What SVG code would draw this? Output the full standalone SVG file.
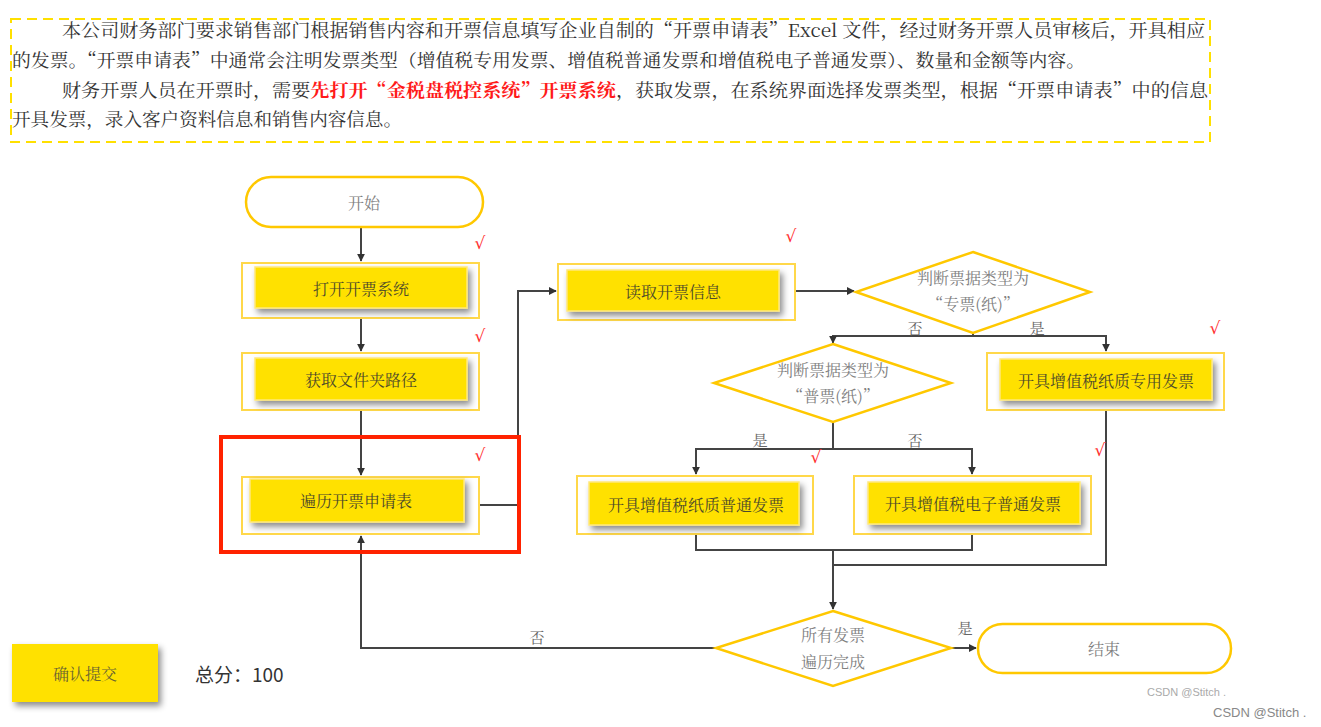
<svg xmlns="http://www.w3.org/2000/svg" width="1321" height="727" viewBox="0 0 1321 727">
<style>
.hd{font-family:"Noto Serif CJK SC","Noto Sans CJK SC",serif;font-size:18px;fill:#333}
.red{fill:#ff1a1a;font-weight:bold}
.frame{fill:#fff;stroke:#ffd84a;stroke-width:2}
.box{fill:#ffe100;stroke:#ffe87a;stroke-width:1.5}
.nt{font-family:"Noto Serif CJK SC","Noto Sans CJK SC",serif;font-size:16px;fill:#4d4a2a;text-anchor:middle;dominant-baseline:central}
.gt{font-family:"Noto Serif CJK SC","Noto Sans CJK SC",serif;font-size:16px;fill:#808080;text-anchor:middle;dominant-baseline:central}
.dia{fill:#fff;stroke:#ffc800;stroke-width:2.5}
.pill{fill:#fff;stroke:#ffc800;stroke-width:2.5}
.ln{fill:none;stroke:#444;stroke-width:2}
.lab{font-family:"Noto Serif CJK SC","Noto Sans CJK SC",serif;font-size:15px;fill:#666;text-anchor:middle;dominant-baseline:central}
.ck{font-family:"DejaVu Sans",sans-serif;font-size:17px;font-style:italic;fill:#ff3030;text-anchor:middle;dominant-baseline:central}
</style>
<defs>
<filter id="sh" x="-10%" y="-20%" width="130%" height="160%">
<feDropShadow dx="3" dy="4" stdDeviation="3" flood-color="#000" flood-opacity="0.45"/>
</filter>
<marker id="ar" viewBox="0 0 10 10" refX="9" refY="5" markerWidth="4" markerHeight="4" orient="auto">
<path d="M0,0 L10,5 L0,10 z" fill="#333"/>
</marker>
</defs>
<rect width="1321" height="727" fill="#fff"/>

<g id="intro">
<rect x="11" y="19" width="1199" height="123" fill="none" stroke="#ffe000" stroke-width="2" stroke-dasharray="10,6"/>
<text class="hd" x="62" y="37" textLength="1143" lengthAdjust="spacingAndGlyphs">本公司财务部门要求销售部门根据销售内容和开票信息填写企业自制的“开票申请表”Excel 文件，经过财务开票人员审核后，开具相应</text>
<text class="hd" x="12" y="67" textLength="1073" lengthAdjust="spacingAndGlyphs">的发票。“开票申请表”中通常会注明发票类型（增值税专用发票、增值税普通发票和增值税电子普通发票）、数量和金额等内容。</text>
<text class="hd" x="62" y="97" textLength="1146" lengthAdjust="spacingAndGlyphs">财务开票人员在开票时，需要<tspan class="red">先打开“金税盘税控系统”开票系统</tspan>，获取发票，在系统界面选择发票类型，根据“开票申请表”中的信息</text>
<text class="hd" x="12" y="126" textLength="390" lengthAdjust="spacingAndGlyphs">开具发票，录入客户资料信息和销售内容信息。</text>
</g>

<g id="connectors">
<path class="ln" d="M361,227 V261" marker-end="url(#ar)"/>
<path class="ln" d="M361,318 V351" marker-end="url(#ar)"/>
<path class="ln" d="M361,410 V475" marker-end="url(#ar)"/>
<path class="ln" d="M479,505 H518 V291 H556" marker-end="url(#ar)"/>
<path class="ln" d="M795,291 L854,291" marker-end="url(#ar)"/>
<path class="ln" d="M973,333 V336"/>
<path class="ln" d="M833,343 V336 H1106 V351" marker-end="url(#ar)"/>
<path class="ln" d="M833,336 V343" marker-end="url(#ar)"/>
<path class="ln" d="M833,422 V449"/>
<path class="ln" d="M696,474 V449 H972 V474" marker-end="url(#ar)"/>
<path class="ln" d="M696,449 V474" marker-end="url(#ar)"/>
<path class="ln" d="M696,534 V550 H972 V534"/>
<path class="ln" d="M1106,410 V565 H833"/>
<path class="ln" d="M833,550 V609" marker-end="url(#ar)"/>
<path class="ln" d="M951,648 H976" marker-end="url(#ar)"/>
<path class="ln" d="M716,648 H361 V536" marker-end="url(#ar)"/>
<text class="lab" x="915" y="327">否</text>
<text class="lab" x="1037" y="327">是</text>
<text class="lab" x="760" y="439">是</text>
<text class="lab" x="915" y="439">否</text>
<text class="lab" x="965" y="627">是</text>
<text class="lab" x="537" y="636">否</text>
</g>

<g id="start">
<rect class="pill" x="246" y="177" width="237" height="50" rx="25"/>
<text class="gt" x="364" y="202">开始</text>
</g>

<g id="open-system">
<rect class="frame" x="242" y="263" width="237" height="55"/>
<rect class="box" x="255" y="267" width="212" height="41" filter="url(#sh)"/>
<text class="nt" x="361" y="288">打开开票系统</text>
</g>

<g id="get-path">
<rect class="frame" x="242" y="353" width="237" height="57"/>
<rect class="box" x="255" y="358" width="212" height="42" filter="url(#sh)"/>
<text class="nt" x="361" y="379">获取文件夹路径</text>
</g>

<g id="iterate">
<rect class="frame" x="242" y="477" width="237" height="57"/>
<rect class="box" x="250" y="479" width="214" height="43" filter="url(#sh)"/>
<text class="nt" x="356" y="500">遍历开票申请表</text>
</g>

<g id="highlight">
<rect x="221" y="437" width="298" height="115" fill="none" stroke="#ff2200" stroke-width="4"/>
</g>

<g id="read-info">
<rect class="frame" x="558" y="264" width="237" height="56"/>
<rect class="box" x="567" y="270" width="212" height="41" filter="url(#sh)"/>
<text class="nt" x="673" y="291">读取开票信息</text>
</g>

<g id="decision-special">
<polygon class="dia" points="973,252 1090,292 973,333 856,292"/>
<text class="gt" x="973" y="277">判断票据类型为</text>
<text class="gt" x="973" y="303">“专票(纸)”</text>
</g>

<g id="decision-normal">
<polygon class="dia" points="833,344 951,383 833,422 714,383"/>
<text class="gt" x="833" y="369">判断票据类型为</text>
<text class="gt" x="833" y="395">“普票(纸)”</text>
</g>

<g id="special-invoice">
<rect class="frame" x="987" y="353" width="237" height="57"/>
<rect class="box" x="1000" y="359" width="212" height="41" filter="url(#sh)"/>
<text class="nt" x="1106" y="380">开具增值税纸质专用发票</text>
</g>

<g id="paper-invoice">
<rect class="frame" x="577" y="476" width="236" height="58"/>
<rect class="box" x="589" y="482" width="210" height="43" filter="url(#sh)"/>
<text class="nt" x="696" y="504">开具增值税纸质普通发票</text>
</g>

<g id="e-invoice">
<rect class="frame" x="854" y="476" width="237" height="58"/>
<rect class="box" x="868" y="482" width="212" height="42" filter="url(#sh)"/>
<text class="nt" x="973" y="503">开具增值税电子普通发票</text>
</g>

<g id="decision-done">
<polygon class="dia" points="833,611 951,648 833,686 716,648"/>
<text class="gt" x="833" y="634">所有发票</text>
<text class="gt" x="833" y="661">遍历完成</text>
</g>

<g id="end">
<rect class="pill" x="978" y="624" width="253" height="49" rx="24.5"/>
<text class="gt" x="1104" y="648">结束</text>
</g>

<g id="checks">
<text class="ck" x="480" y="243">√</text>
<text class="ck" x="791" y="236">√</text>
<text class="ck" x="480" y="336">√</text>
<text class="ck" x="1215" y="328">√</text>
<text class="ck" x="480" y="455">√</text>
<text class="ck" x="816" y="457">√</text>
<text class="ck" x="1100" y="450">√</text>
</g>

<g id="submit">
<rect x="12" y="644" width="146" height="58" fill="#ffe100" filter="url(#sh)"/>
<text class="nt" x="85" y="673" style="fill:#6b6530">确认提交</text>
</g>

<g id="score">
<text x="195" y="682" font-family="'Noto Sans CJK SC','Noto Sans',sans-serif" font-size="19" fill="#333">总分：100</text>
</g>

<g id="watermark">
<text x="1147" y="696" font-family="'Liberation Sans',sans-serif" font-size="11" fill="#aaa">CSDN @Stitch .</text>
<text x="1213" y="717" font-family="'Liberation Sans',sans-serif" font-size="13" fill="#888">CSDN @Stitch .</text>
</g>
</svg>
